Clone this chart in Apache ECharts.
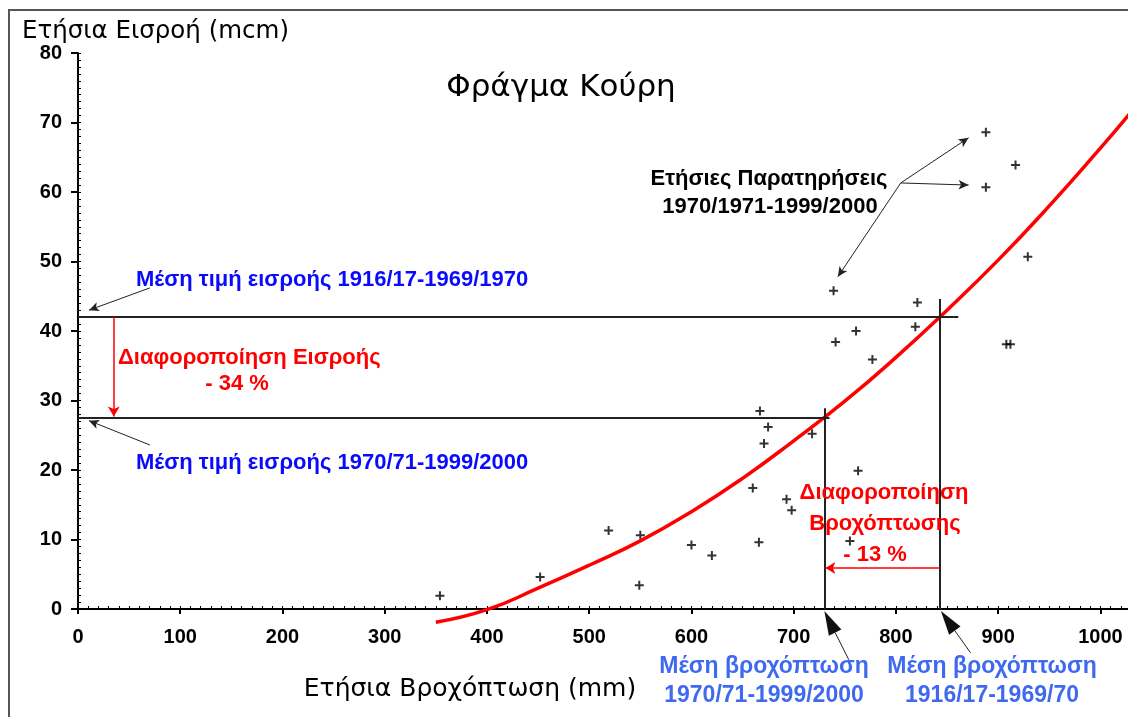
<!DOCTYPE html>
<html>
<head>
<meta charset="utf-8">
<title>Φράγμα Κούρη</title>
<script src="https://cdn.jsdelivr.net/npm/echarts@6/dist/echarts.min.js"></script>
<style>
  html, body { margin: 0; padding: 0; background: #fff; }
  #chart { width: 1128px; height: 717px; }
</style>
</head>
<body>
<div id="chart"></div>
<script>
// ετήσιες παρατηρήσεις 1970/71-1999/2000 (βροχόπτωση mm, εισροή mcm)
const obsRain = [354, 452, 519, 550, 549, 600, 620, 671, 660, 666, 693, 698, 718, 763, 755,
  761, 741, 777, 667, 675, 888, 917, 888, 929, 739, 821, 819, 908, 912]
const obsInflow = [1.9, 4.6, 11.3, 10.6, 3.4, 9.2, 7.7, 23.8, 17.4, 9.6, 15.8, 14.2, 25.2, 19.9, 9.8,
  40.0, 38.4, 35.9, 28.5, 26.2, 68.6, 63.9, 60.7, 50.7, 45.8, 44.1, 40.6, 38.1, 38.1]

// καμπύλη βροχής-απορροής (διαβασμένη από το διάγραμμα)
const curveRain = [350, 400, 450, 500, 550, 600, 650, 700, 750, 800, 850, 900, 950, 1000, 1030]
const curveInflow = [-1.9, -0.1, 3.0, 6.3, 9.8, 14.0, 18.8, 24.2, 29.9, 36.2, 43.0, 50.2, 58.0, 66.3, 71.5]

// μέσες τιμές
const meanInflow = [42, 27.5]   // 1916/17-1969/70, 1970/71-1999/2000
const meanRain = [843, 730]     // 1916/17-1969/70, 1970/71-1999/2000

const chart = echarts.init(document.getElementById('chart'))

const SANS = '"Liberation Sans", Arial, sans-serif'
const BOLD = 'bold 22px ' + SANS
const BOLD23 = 'bold 23px ' + SANS
const blue = '#0a0aff'
const lightBlue = '#3f6af0'
const red = '#ff0000'

function seg(x1, y1, x2, y2) {
  return [{ coord: [x1, y1] }, { coord: [x2, y2] }]
}

const tickLabel = {
  color: '#000', fontFamily: SANS, fontSize: 20, fontWeight: 'bold',
  formatter: v => String(v)
}

chart.setOption({
  animation: false,
  backgroundColor: '#fff',
  grid: { left: 78, right: 0, top: 53, bottom: 108 },
  xAxis: [
    {
      type: 'value', min: 0, max: 1027, interval: 100, offset: 10,
      axisLine: { show: false },
      axisTick: { show: true, length: 5, lineStyle: { color: '#000', width: 2 } },
      axisLabel: Object.assign({ margin: 8, showMaxLabel: false }, tickLabel),
      splitLine: { show: false }
    },
    {
      type: 'value', min: 0, max: 1027, interval: 100, position: 'bottom',
      axisLine: { show: true, lineStyle: { color: '#000', width: 2 } },
      axisTick: { show: true, inside: true, length: 3, lineStyle: { color: '#000' } },
      minorTick: { show: true, splitNumber: 10, length: 3, lineStyle: { color: '#000' } },
      axisLabel: { show: false },
      splitLine: { show: false }
    }
  ],
  yAxis: [
    {
      type: 'value', min: 0, max: 80, interval: 10,
      axisLine: { show: true, lineStyle: { color: '#000', width: 2 } },
      axisTick: { show: true, length: 7, lineStyle: { color: '#000', width: 2 } },
      axisLabel: Object.assign({ margin: 16 }, tickLabel),
      splitLine: { show: false }
    },
    {
      type: 'value', min: 0, max: 80, interval: 10, position: 'left',
      axisLine: { show: false },
      axisTick: { show: true, inside: true, length: 3, lineStyle: { color: '#000' } },
      minorTick: { show: true, splitNumber: 10, length: 3, lineStyle: { color: '#000' } },
      axisLabel: { show: false },
      splitLine: { show: false }
    }
  ],
  series: [
    {
      name: 'Καμπύλη',
      type: 'line',
      smooth: true,
      clip: false,
      symbol: 'none',
      lineStyle: { color: red, width: 3.5 },
      data: curveRain.map((r, i) => [r, curveInflow[i]])
    },
    {
      name: 'Ετήσιες Παρατηρήσεις',
      type: 'scatter',
      symbol: 'path://M0,3.5H9V5.5H0Z M3.5,0H5.5V9H3.5Z',
      symbolSize: 9,
      itemStyle: { color: '#000' },
      data: obsRain.map((r, i) => [r, obsInflow[i]])
    },
    {
      // γραμμές μέσων τιμών
      type: 'line', data: [], clip: false, silent: true,
      markLine: {
        silent: true, symbol: ['none', 'none'], label: { show: false },
        lineStyle: { color: '#222', width: 2, type: 'solid' },
        data: [
          seg(0, meanInflow[0], 861, meanInflow[0]),
          seg(0, meanInflow[1], 735, meanInflow[1]),
          seg(meanRain[0], 0, meanRain[0], 44.6),
          seg(meanRain[1], 0, meanRain[1], 28.9)
        ]
      }
    },
    {
      // κόκκινα βέλη διαφοροποίησης
      type: 'line', data: [], clip: false, silent: true,
      markLine: {
        silent: true, symbol: ['none', 'arrow'], symbolSize: [9, 10], label: { show: false },
        lineStyle: { color: red, width: 1.5, type: 'solid' },
        data: [
          seg(35, meanInflow[0], 35, meanInflow[1] + 0.2),
          seg(meanRain[0], 5.9, meanRain[1] + 1, 5.9)
        ]
      }
    },
    {
      // μαύρα βέλη επισήμανσης
      type: 'line', data: [], clip: false, silent: true,
      markLine: {
        silent: true, symbol: ['none', 'arrow'], symbolSize: [7, 10], label: { show: false },
        lineStyle: { color: '#222', width: 1, type: 'solid' },
        data: [
          seg(70.3, 46.2, 10.7, 43.0),
          seg(70.3, 23.6, 10.7, 27.1),
          seg(804.7, 61.3, 871.1, 67.8),
          seg(804.7, 61.3, 871.1, 61.0),
          seg(804.7, 61.3, 743.2, 47.8)
        ]
      }
    }
  ]
})

// βέλη κάτω από τον άξονα x (εκτός πλέγματος)
function bigArrow(from, to) {
  const p0 = chart.convertToPixel({ gridIndex: 0 }, from)
  const p1 = chart.convertToPixel({ gridIndex: 0 }, to)
  const dx = p1[0] - p0[0]
  const dy = p1[1] - p0[1]
  const len = Math.sqrt(dx * dx + dy * dy)
  const ux = dx / len
  const uy = dy / len
  const hl = 24
  const hw = 7
  const bx = p1[0] - ux * hl
  const by = p1[1] - uy * hl
  return [
    { type: 'line', z: 50, shape: { x1: p0[0], y1: p0[1], x2: bx, y2: by }, style: { stroke: '#222', lineWidth: 1 } },
    { type: 'polygon', z: 50, shape: { points: [p1, [bx - uy * hw, by + ux * hw], [bx + uy * hw, by - ux * hw]] }, style: { fill: '#111' } }
  ]
}

function txt(x, y, text, font, fill, align) {
  return { type: 'text', z: 100, x: x, y: y, style: { text: text, font: font, fill: fill, align: align || 'center', verticalAlign: 'middle' } }
}

chart.setOption({
  graphic: [
    { type: 'rect', silent: true, shape: { x: 9, y: 10, width: 1300, height: 900 },
      style: { fill: 'none', stroke: '#555', lineWidth: 2 } },
    txt(561, 88, 'Φράγμα Κούρη', '31px "DejaVu Sans", Verdana, sans-serif', '#000'),
    txt(22, 32, 'Ετήσια Εισροή (mcm)', '24.5px "DejaVu Sans", Verdana, sans-serif', '#000', 'left'),
    txt(470, 689, 'Ετήσια Βροχόπτωση (mm)', '25px "DejaVu Sans", Verdana, sans-serif', '#000'),
    txt(136, 280, 'Μέση τιμή εισροής 1916/17-1969/1970', BOLD, blue, 'left'),
    txt(136, 463, 'Μέση τιμή εισροής 1970/71-1999/2000', BOLD, blue, 'left'),
    txt(118, 358, 'Διαφοροποίηση Εισροής', BOLD, red, 'left'),
    txt(237, 384, '- 34 %', BOLD, red),
    txt(769, 179, 'Ετήσιες Παρατηρήσεις', BOLD, '#000'),
    txt(770, 207, '1970/1971-1999/2000', BOLD, '#000'),
    txt(884, 493, 'Διαφοροποίηση', BOLD, red),
    txt(885, 524, 'Βροχόπτωσης', BOLD, red),
    txt(875, 555, '- 13 %', BOLD, red),
    txt(764, 667, 'Μέση βροχόπτωση', BOLD23, lightBlue),
    txt(764, 696, '1970/71-1999/2000', BOLD23, lightBlue),
    txt(992, 667, 'Μέση βροχόπτωση', BOLD23, lightBlue),
    txt(992, 696, '1916/17-1969/70', BOLD23, lightBlue)
  ].concat(
    bigArrow([753.9, -7.3], [meanRain[1], -0.3]),
    bigArrow([873, -6.3], [meanRain[0] + 1, -0.3])
  )
})

window.addEventListener('resize', () => {
  chart.resize()
})
</script>
</body>
</html>
